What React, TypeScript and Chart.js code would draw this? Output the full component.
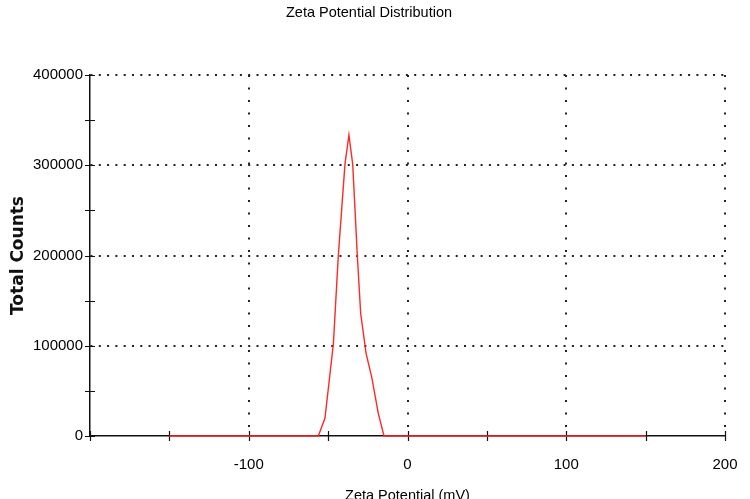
import React, { useEffect, useRef } from "react";
import { Chart, registerables } from "chart.js";

Chart.register(...registerables);

// Data (Zeta potential in mV vs total counts)
const zetaMv = [-150, -56.2, -52.0, -46.7, -43.6, -39.4, -36.9, -34.5, -31.6, -29.5, -26.1, -22.6, -18.4, -14.8, 150];
const totalCounts = [0, 0, 19600, 101900, 199400, 301000, 333500, 301000, 199400, 136000, 91600, 65700, 25100, 0, 0];

const xLabeledTicks = [-100, 0, 100, 200];
const yLabeledTicks = [0, 100000, 200000, 300000, 400000];
const xGridValues = [-100, 0, 100, 200];
const yGridValues = [100000, 200000, 300000, 400000];

const SANS = '"Liberation Sans", Arial, Helvetica, sans-serif';
const WIDE_BOLD = '"DejaVu Sans", "Liberation Sans", Arial, sans-serif';

const crossTicks = {
  id: "crossTicks",
  beforeDatasetsDraw(chart: any) {
    const ctx = chart.ctx;
    const xs = chart.scales.x;
    const ys = chart.scales.y;
    ctx.save();
    ctx.strokeStyle = "#111";
    ctx.lineWidth = 1.2;
    ctx.beginPath();
    const axisY = ys.bottom;
    const axisX = xs.left;
    xs.ticks.forEach((t: any) => {
      const px = Math.round(xs.getPixelForValue(t.value)) + 0.5;
      ctx.moveTo(px, axisY - 5);
      ctx.lineTo(px, axisY + 5);
    });
    ys.ticks.forEach((t: any) => {
      const py = Math.round(ys.getPixelForValue(t.value)) + 0.5;
      ctx.moveTo(axisX - 5, py);
      ctx.lineTo(axisX + 5, py);
    });
    ctx.stroke();
    ctx.restore();
  },
};

export default function App() {
  const canvasRef = useRef<HTMLCanvasElement | null>(null);

  useEffect(() => {
    if (!canvasRef.current) return;
    const points = zetaMv.map((x, i) => ({ x, y: totalCounts[i] }));
    const chart = new Chart(canvasRef.current, {
      type: "line",
      data: {
        datasets: [
          {
            data: points,
            borderColor: "rgb(255, 40, 40)",
            borderWidth: 1.4,
            pointRadius: 0,
            tension: 0,
            fill: false,
            clip: false as any,
          },
        ],
      },
      plugins: [crossTicks],
      options: {
        animation: false,
        responsive: false,
        parsing: false as any,
        layout: { padding: { left: 0, right: 12, top: 0, bottom: 0 } },
        plugins: {
          legend: { display: false },
          tooltip: { enabled: false },
          title: {
            display: true,
            text: "Zeta Potential Distribution",
            color: "#000",
            font: { family: SANS, size: 14.5, weight: "normal" as any, lineHeight: 1.2 },
            padding: { top: 3.8, bottom: 53.8 },
          },
        },
        scales: {
          x: {
            type: "linear",
            min: -200,
            max: 200,
            ticks: {
              stepSize: 50,
              autoSkip: false,
              maxRotation: 0,
              padding: 0,
              color: "#000",
              font: { family: SANS, size: 15 },
              callback: (v: any) => (xLabeledTicks.includes(Number(v)) ? String(v) : ""),
            },
            grid: {
              color: (c: any) => (c.tick && xGridValues.includes(c.tick.value) ? "#222" : "transparent"),
              lineWidth: 2,
              drawTicks: true,
              tickLength: 20,
              tickColor: "transparent",
            },
            border: { display: true, color: "#111", width: 1.5, dash: [2, 10.5] },
            title: {
              display: true,
              text: "Zeta Potential (mV)",
              color: "#000",
              font: { family: SANS, size: 14.5, lineHeight: 1 },
              padding: { top: 0, bottom: -4 },
            },
            afterFit: (s: any) => {
              s.height = 63;
            },
          },
          y: {
            type: "linear",
            position: "left",
            min: 0,
            max: 400000,
            ticks: {
              stepSize: 50000,
              autoSkip: false,
              padding: 1,
              color: "#000",
              font: { family: SANS, size: 15 },
              callback: (v: any) => (yLabeledTicks.includes(Number(v)) ? String(v) : ""),
            },
            grid: {
              color: (c: any) => (c.tick && yGridValues.includes(c.tick.value) ? "#222" : "transparent"),
              lineWidth: 2,
              drawTicks: true,
              tickLength: 6,
              tickColor: "transparent",
            },
            border: { display: true, color: "#111", width: 1.5, dash: [2, 6.3] },
            title: {
              display: true,
              text: "Total Counts",
              color: "#111",
              font: { family: WIDE_BOLD, size: 17, weight: "bold" as any, lineHeight: 1.2 },
              padding: { top: 8.8, bottom: 0 },
            },
            afterFit: (s: any) => {
              s.width = 90;
            },
          },
          y2: {
            type: "linear",
            position: "right",
            display: true,
            ticks: { display: false },
            grid: { display: false, drawTicks: false },
            border: { display: false },
            afterFit: (s: any) => {
              s.width = 13;
            },
          },
        },
      } as any,
    });
    return () => chart.destroy();
  }, []);

  return (
    <div style={{ position: "absolute", left: 0, top: 0, width: 750, height: 499, background: "#fff" }}>
      <canvas ref={canvasRef} width={750} height={499} style={{ display: "block" }} />
    </div>
  );
}
